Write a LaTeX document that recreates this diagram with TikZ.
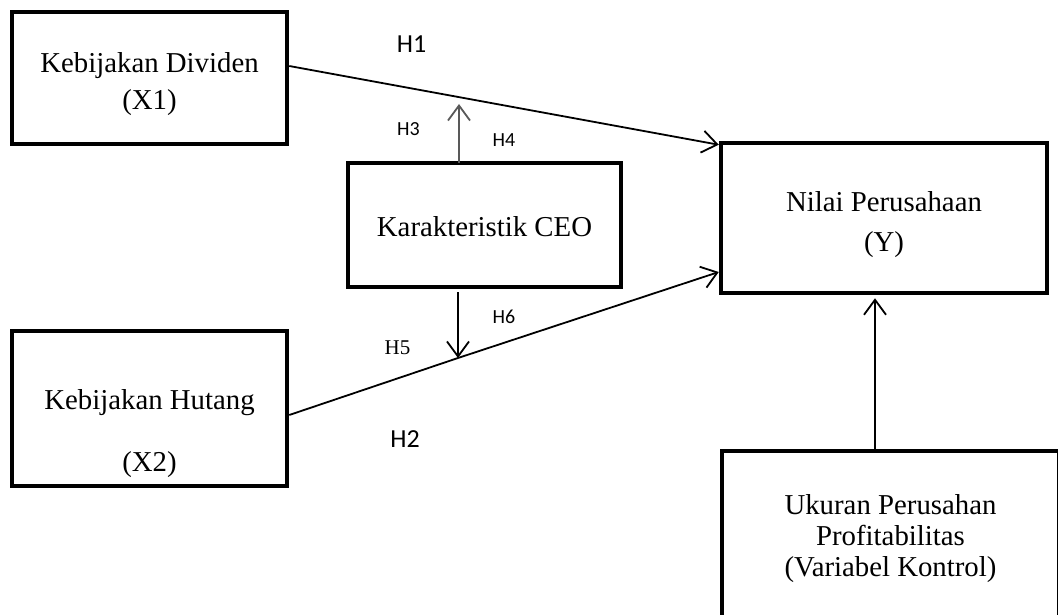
\documentclass[tikz,border=0pt]{standalone}
\usepackage{fontspec}
\setmainfont{Liberation Serif}
\newfontfamily\lblfont{Carlito}
\usetikzlibrary{arrows.meta}
\newcommand{\boxtext}[3]{\raisebox{#1}{\parbox{#2}{\centering #3}}}
\tikzset{
  x=1pt,y=-1pt,
  boxnode/.style={draw=black,line width=4.5pt,rectangle,align=center,inner sep=0pt,text height=0pt,text depth=0pt},
  arr/.style={line width=1.8pt,-{Straight Barb[length=15pt,width=22pt,line width=1.8pt]}},
  plainline/.style={line width=1.8pt},
  hbig/.style={font=\lblfont\fontsize{26}{30}\selectfont,inner sep=0pt},
  hsmall/.style={font=\lblfont\fontsize{20}{24}\selectfont,inner sep=0pt},
  hserif/.style={font=\fontsize{21}{24}\selectfont,inner sep=0pt}
}
\begin{document}
\begin{tikzpicture}
\useasboundingbox (0,0) rectangle (1058,615);
\clip (0,0) rectangle (1058,615);
% boxes
\node[boxnode,font=\fontsize{28.8}{37}\selectfont,minimum width=275pt,minimum height=132pt] (n1) at (149.5,78)
  {\boxtext{-12pt}{270pt}{Kebijakan Dividen\\(X1)}};
\node[boxnode,font=\fontsize{28.8}{37}\selectfont,minimum width=273pt,minimum height=124pt] (n2) at (484.5,225)
  {\boxtext{-8pt}{270pt}{Karakteristik CEO}};
\node[boxnode,font=\fontsize{28.8}{40}\selectfont,minimum width=326pt,minimum height=150pt] (n3) at (884,218)
  {\boxtext{-12.5pt}{320pt}{Nilai Perusahaan\\(Y)}};
\node[boxnode,font=\fontsize{28.8}{62}\selectfont,minimum width=275pt,minimum height=155pt] (n4) at (149.5,408.5)
  {\boxtext{-31pt}{270pt}{Kebijakan Hutang\\(X2)}};
\node[boxnode,font=\fontsize{28.8}{31}\selectfont,minimum width=337pt,minimum height=180pt] (n5) at (890.5,541)
  {\boxtext{-4pt}{330pt}{Ukuran Perusahan\\Profitabilitas\\(Variabel Kontrol)}};
% connectors
\coordinate (m1) at (459,104);
\coordinate (m2) at (458,358);
\draw[arr] ([yshift=12pt]n1.east) -- ([yshift=-4pt]n3.north west);
\draw[plainline] ([yshift=-6.5pt]n4.east) -- (m2);
\draw[arr] (m2) -- ([yshift=-54pt]n3.west);
\draw[arr,draw=black!65] ([xshift=-25.5pt,yshift=-2pt]n2.north) -- (m1);
\draw[arr] ([xshift=-26.5pt,yshift=-3pt]n2.south) -- (m2);
\draw[arr] ([xshift=-15.5pt]n5.north) -- ([xshift=-9pt,yshift=-3pt]n3.south);
% labels
\node[hbig] (h1) at (411.5,44) {H1};
\node[hbig] (h2) at (405,439) {H2};
\node[hsmall] (h3) at (408.5,129.5) {H3};
\node[hsmall] (h4) at (504,140.5) {H4};
\node[hserif] (h5) at (397.5,347.5) {H5};
\node[hsmall] (h6) at (504,316.5) {H6};
\end{tikzpicture}
\end{document}
